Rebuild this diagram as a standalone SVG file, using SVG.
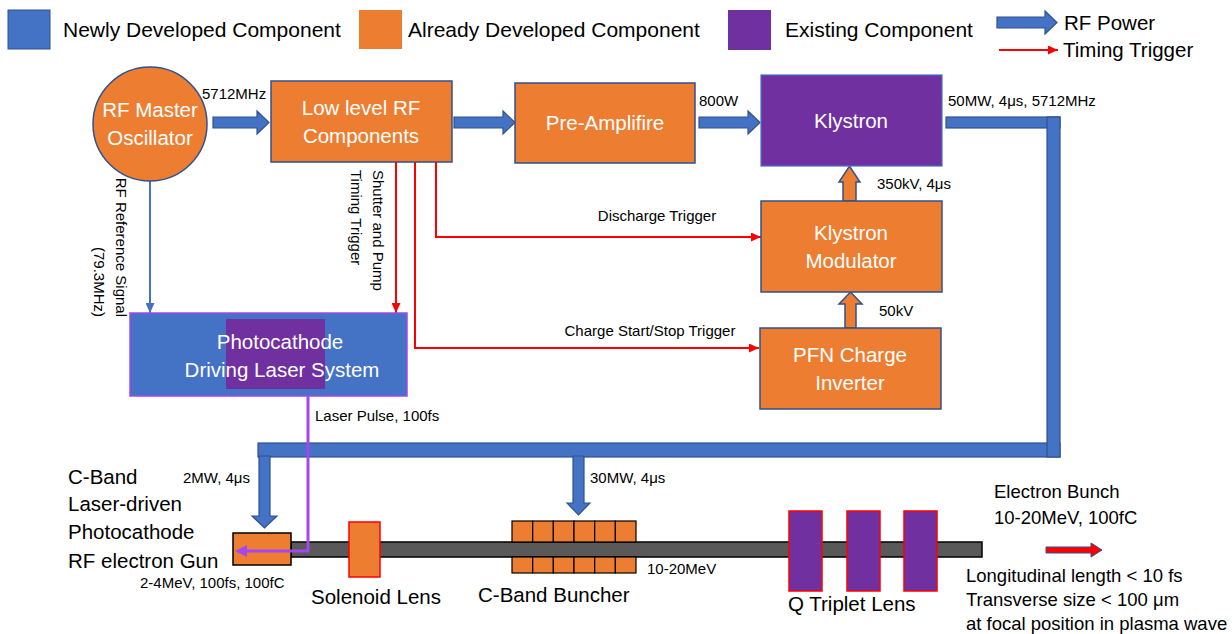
<svg xmlns="http://www.w3.org/2000/svg" width="1232" height="634" viewBox="0 0 1232 634">
<style>
text{font-family:"Liberation Sans",Arial,sans-serif;fill:#000}
.w{fill:#fff;font-size:20.5px;text-anchor:middle}
.s{font-size:15px}
.m{font-size:18.5px}
.l{font-size:20.5px}
.lg{font-size:21px}
.or{fill:#ED7D31;stroke:#2F528F;stroke-width:1.5}
.pu{fill:#7030A0;stroke:#4472C4;stroke-width:1.2}
.bl{fill:#4472C4;stroke:#2F528F;stroke-width:1.2}
.red{stroke:#FF0000;stroke-width:2;fill:none}
</style>
<defs>
<marker id="ar" markerUnits="userSpaceOnUse" markerWidth="10" markerHeight="9" refX="10" refY="4.5" orient="auto"><path d="M0,0 L10,4.5 L0,9 z" fill="#FF0000"/></marker>
<marker id="ab" markerUnits="userSpaceOnUse" markerWidth="10" markerHeight="9" refX="10" refY="4.5" orient="auto"><path d="M0,0 L10,4.5 L0,9 z" fill="#4472C4"/></marker>
</defs>
<rect width="1232" height="634" fill="#fff"/>

<g id="legend">
<rect x="8" y="10" width="42" height="39" fill="#4472C4" stroke="#2F528F" stroke-width="1"/>
<text class="lg" x="63" y="37">Newly Developed Component</text>
<rect x="359" y="10" width="43" height="39" fill="#ED7D31"/>
<text class="lg" x="408" y="37">Already Developed Component</text>
<rect x="728" y="10" width="43" height="40" fill="#7030A0"/>
<text class="lg" x="785" y="37">Existing Component</text>
<polygon class="bl" points="997,17 1045,17 1045,11 1057,22.5 1045,34 1045,28 997,28"/>
<text class="l" x="1064" y="30">RF Power</text>
<line x1="999" y1="50" x2="1058" y2="50" class="red" marker-end="url(#ar)"/>
<text class="l" x="1063" y="57">Timing Trigger</text>
</g>

<g id="connectors">
<polygon class="bl" points="213,117 257,117 257,111 269,122.5 257,134 257,128 213,128"/>
<polygon class="bl" points="454,117 503,117 503,111 515,122.5 503,134 503,128 454,128"/>
<polygon class="bl" points="699,117 748,117 748,111 760,122.5 748,134 748,128 699,128"/>
<rect class="bl" x="946" y="117" width="114" height="11"/>
<rect class="bl" x="258" y="443" width="802" height="14"/>
<rect class="bl" x="1047" y="117" width="13" height="340"/>
<polygon class="bl" points="259,456 270,456 270,516 277,516 264.5,528 252,516 259,516"/>
<polygon class="bl" points="573,456 584,456 584,503 590,503 578.5,515 567,503 573,503"/>
<polygon class="or" points="843,201 856,201 856,182 860,182 849.5,166 839,182 843,182"/>
<polygon class="or" points="845,328 856,328 856,304 862,304 850.5,292 839,304 845,304"/>
<line x1="150" y1="181" x2="150" y2="313" stroke="#4472C4" stroke-width="2" marker-end="url(#ab)"/>
<line x1="396" y1="162" x2="396" y2="313" class="red" marker-end="url(#ar)"/>
<polyline points="415,162 415,348 759,348" class="red" marker-end="url(#ar)"/>
<polyline points="436,162 436,237 761,237" class="red" marker-end="url(#ar)"/>
<text class="s" x="202" y="99">5712MHz</text>
<text class="s" x="699" y="106">800W</text>
<text class="s" x="948" y="106">50MW, 4μs, 5712MHz</text>
<text class="s" x="877" y="189">350kV, 4μs</text>
<text class="s" x="879" y="316">50kV</text>
<text class="s" x="657" y="221" text-anchor="middle">Discharge Trigger</text>
<text class="s" x="650" y="336" text-anchor="middle">Charge Start/Stop Trigger</text>
<text class="s" transform="translate(116,317) rotate(90)" text-anchor="end">RF Reference Signal</text>
<text class="s" transform="translate(94,317) rotate(90)" text-anchor="end">(79.3MHz)</text>
<text class="s" transform="translate(373,170) rotate(90)">Shutter and Pump</text>
<text class="s" transform="translate(351,170) rotate(90)">Timing Trigger</text>
<text class="s" x="315" y="421">Laser Pulse, 100fs</text>
<text class="s" x="183" y="483">2MW, 4μs</text>
<text class="s" x="590" y="483">30MW, 4μs</text>
</g>

<g id="osc">
<circle cx="150" cy="124" r="57" class="or"/>
<text class="w" x="150" y="117">RF Master</text>
<text class="w" x="150" y="145">Oscillator</text>
</g>
<g id="llrf">
<rect class="or" x="271" y="81" width="181" height="81"/>
<text class="w" x="361" y="115">Low level RF</text>
<text class="w" x="361" y="143">Components</text>
</g>
<g id="preamp">
<rect class="or" x="515" y="83" width="180" height="80"/>
<text class="w" x="605" y="130">Pre-Amplifire</text>
</g>
<g id="klystron">
<rect class="pu" x="761" y="75" width="181" height="91"/>
<text class="w" x="851" y="128">Klystron</text>
</g>
<g id="modulator">
<rect class="or" x="761" y="201" width="181" height="91"/>
<text class="w" x="851" y="240">Klystron</text>
<text class="w" x="851" y="268">Modulator</text>
</g>
<g id="pfn">
<rect class="or" x="760" y="328" width="181" height="81"/>
<text class="w" x="850" y="362">PFN Charge</text>
<text class="w" x="850" y="390">Inverter</text>
</g>
<g id="laser">
<rect x="130" y="313" width="277" height="83" fill="#4472C4" stroke="#A347F0" stroke-width="1.5"/>
<rect x="226" y="319" width="99" height="70" fill="#7030A0"/>
<text class="w" x="280" y="349">Photocathode</text>
<text class="w" x="282" y="377">Driving Laser System</text>
</g>

<g id="beamline">
<rect x="291" y="542" width="691" height="15" fill="#595959" stroke="#000" stroke-width="1.5"/>
<g id="gun">
<rect x="233" y="533" width="58" height="32" fill="#ED7D31" stroke="#000" stroke-width="1.5"/>
</g>
<polyline points="308,396 308,551 246,551" fill="none" stroke="#A347F0" stroke-width="3"/>
<polygon points="235,551 247,545 247,557" fill="#A347F0"/>
<g id="solenoid">
<rect x="349" y="522" width="31" height="55" fill="#ED7D31" stroke="#FF0000" stroke-width="1.5"/>
</g>
<g id="buncher" fill="#ED7D31" stroke="#000" stroke-width="1.2">
<rect x="512" y="521" width="20.7" height="21"/><rect x="532.7" y="521" width="20.7" height="21"/><rect x="553.3" y="521" width="20.7" height="21"/><rect x="574" y="521" width="20.7" height="21"/><rect x="594.7" y="521" width="20.7" height="21"/><rect x="615.3" y="521" width="20.7" height="21"/>
<rect x="512" y="557" width="20.7" height="16"/><rect x="532.7" y="557" width="20.7" height="16"/><rect x="553.3" y="557" width="20.7" height="16"/><rect x="574" y="557" width="20.7" height="16"/><rect x="594.7" y="557" width="20.7" height="16"/><rect x="615.3" y="557" width="20.7" height="16"/>
</g>
<g id="qtriplet" fill="#7030A0" stroke="#FF0000" stroke-width="1.5">
<rect x="789" y="511" width="33" height="80"/>
<rect x="847" y="511" width="33" height="80"/>
<rect x="904" y="511" width="33" height="80"/>
</g>
<polygon points="1046,547 1091,547 1091,543 1102,550 1091,557 1091,553 1046,553" fill="#FF0000" stroke="#2F528F" stroke-width="1"/>
</g>

<g id="labels">
<text class="l" x="68" y="484">C-Band</text>
<text class="l" x="68" y="511">Laser-driven</text>
<text class="l" x="68" y="539">Photocathode</text>
<text class="l" x="68" y="568">RF electron Gun</text>
<text class="s" x="140" y="588">2-4MeV, 100fs, 100fC</text>
<text class="l" x="311" y="604">Solenoid Lens</text>
<text class="l" x="478" y="602">C-Band Buncher</text>
<text class="s" x="647" y="574">10-20MeV</text>
<text class="l" x="788" y="611">Q Triplet Lens</text>
<text class="m" x="994" y="498">Electron Bunch</text>
<text class="m" x="994" y="524">10-20MeV, 100fC</text>
<text class="m" x="966" y="582">Longitudinal length &lt; 10 fs</text>
<text class="m" x="966" y="606">Transverse size &lt; 100 μm</text>
<text class="m" x="966" y="630">at focal position in plasma wave</text>
</g>
</svg>
